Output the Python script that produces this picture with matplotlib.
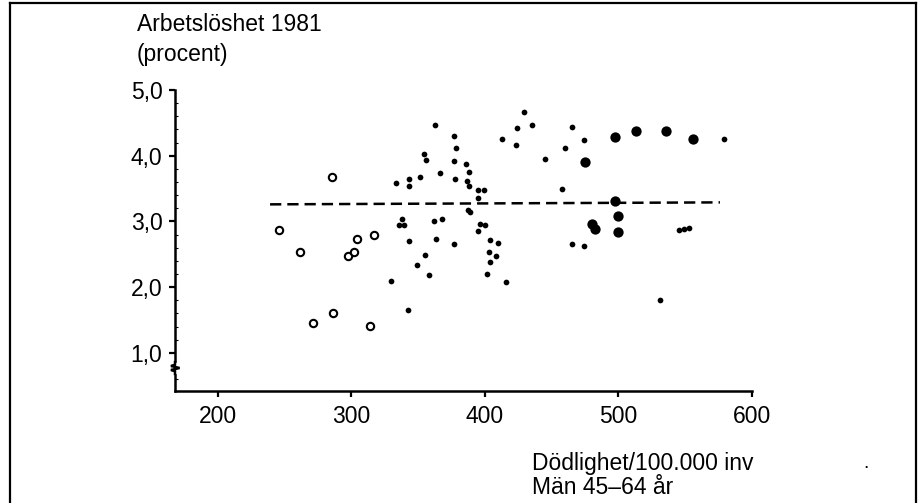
import numpy as np
import matplotlib
matplotlib.use("Agg")
import matplotlib.pyplot as plt
import matplotlib.ticker as mticker
from matplotlib.lines import Line2D
from matplotlib.patches import Rectangle
from matplotlib.transforms import blended_transform_factory

plt.rcParams['font.family'] = ['Liberation Sans', 'DejaVu Sans']

# mortality per 100 000 (men 45-64) vs unemployment 1981 (percent)
open_x = [246.0, 261.5, 271.4, 285.2, 286.4, 297.7, 302.2, 304.0, 316.7, 314.0]
open_y = [2.87, 2.54, 1.46, 3.67, 1.61, 2.48, 2.53, 2.74, 2.79, 1.41]

small_x = [362.9, 377.1, 378.6, 354.2, 355.7, 377.1, 385.8, 388.3, 366.3, 351.2,
           343.4, 343.0, 333.2, 377.9, 386.3, 387.8, 394.7, 399.2, 394.7, 412.7,
           423.4, 424.0, 337.9, 335.8, 339.0, 362.1, 367.9, 386.9, 388.9, 396.4,
           399.9, 395.1, 343.4, 363.6, 376.7, 403.9, 409.9, 354.7, 402.9, 407.9,
           348.7, 358.2, 329.9, 342.4, 403.7, 401.6, 415.5, 429.2, 434.9, 444.6,
           465.1, 474.1, 459.9, 457.4, 465.4, 474.1, 578.8, 545.5, 549.0, 552.5,
           530.8]
small_y = [4.47, 4.30, 4.11, 4.03, 3.93, 3.92, 3.88, 3.75, 3.74, 3.67,
           3.65, 3.54, 3.58, 3.65, 3.62, 3.54, 3.48, 3.48, 3.36, 4.25,
           4.17, 4.42, 3.04, 2.94, 2.94, 3.00, 3.04, 3.17, 3.14, 2.96,
           2.94, 2.86, 2.71, 2.74, 2.65, 2.72, 2.67, 2.49, 2.54, 2.48,
           2.33, 2.19, 2.10, 1.65, 2.38, 2.20, 2.08, 4.67, 4.47, 3.95,
           4.43, 4.24, 4.11, 3.49, 2.66, 2.62, 4.25, 2.87, 2.88, 2.90,
           1.80]

big_x = [474.9, 497.6, 513.3, 535.4, 556.1, 497.6, 499.6, 499.3, 480.1, 482.1]
big_y = [3.90, 4.28, 4.38, 4.37, 4.25, 3.31, 3.08, 2.84, 2.96, 2.88]

# fitted line
line_x = [239, 576]
line_y = [3.26, 3.29]

x_ticks = [200, 300, 400, 500, 600]
y_ticks = [1.0, 2.0, 3.0, 4.0, 5.0]

W, H = 922, 503
fig = plt.figure(figsize=(W / 100, H / 100), dpi=100)
ax = fig.add_axes([175 / W, (H - 391) / H, 577 / W, 301 / H])

ax.plot(line_x, line_y, color='black', lw=1.8, dashes=(4.5, 2.4), zorder=2)
ax.scatter(open_x, open_y, s=28, facecolors='white', edgecolors='black',
           linewidths=1.5, zorder=3)
ax.scatter(small_x, small_y, s=17, color='black', linewidths=0, zorder=3)
ax.scatter(big_x, big_y, s=55, color='black', linewidths=0, zorder=3)

ax.set_xlim(167.8, 600)
ax.set_ylim(0.42, 5.0)

ax.set_xticks(x_ticks)
ax.set_yticks(y_ticks)
ax.yaxis.set_major_formatter(mticker.FuncFormatter(lambda v, p: f"{v:.1f}".replace('.', ',')))
ax.yaxis.set_minor_locator(mticker.MultipleLocator(0.2))
ax.tick_params(axis='both', labelsize=16.5, width=1.6, length=4, direction='out',
               color='black', labelcolor='black')
ax.tick_params(axis='x', pad=6)
ax.tick_params(axis='y', pad=5)
ax.tick_params(axis='y', which='minor', direction='in', length=2, width=0.8)

for side in ['top', 'right']:
    ax.spines[side].set_visible(False)
for side in ['left', 'bottom']:
    ax.spines[side].set_linewidth(1.8)
ax.patch.set_visible(False)

# axis break on the y axis (small zigzag across the spine)
tr = blended_transform_factory(ax.transAxes, ax.transData)
ax.add_patch(Rectangle((-0.01, 0.70), 0.02, 0.14, transform=tr, color='white',
                       clip_on=False, zorder=4))
zx = np.array([0.0, 0.0, -0.007, 0.008, -0.007, 0.0, 0.0])
zy = np.array([0.86, 0.82, 0.80, 0.77, 0.74, 0.72, 0.68])
ax.add_line(Line2D(zx, zy, transform=tr, color='black', lw=1.8,
                   solid_joinstyle='miter', clip_on=False, zorder=6))

# labels
fig.text(137 / W, 1 - 31 / H, "Arbetslöshet 1981", fontsize=16.5, ha='left', va='baseline')
fig.text(137 / W, 1 - 61 / H, "(procent)", fontsize=16.5, ha='left', va='baseline')
fig.text(532 / W, 1 - 470 / H, "Dödlighet/100.000 inv", fontsize=16.5, ha='left', va='baseline')
fig.text(532 / W, 1 - 494 / H, "Män 45–64 år", fontsize=16.5, ha='left', va='baseline')
fig.text(866 / W, 1 - 464 / H, ".", fontsize=14, ha='center', va='center')

# frame around the figure
fig.add_artist(Line2D([10 / W, 10 / W], [-0.1, 1 - 3 / H], transform=fig.transFigure,
                      color='black', lw=1.6))
fig.add_artist(Line2D([916 / W, 916 / W], [-0.1, 1 - 3 / H], transform=fig.transFigure,
                      color='black', lw=1.6))
fig.add_artist(Line2D([10 / W, 916 / W], [1 - 3 / H, 1 - 3 / H], transform=fig.transFigure,
                      color='black', lw=1.6))

fig.savefig("out.png", dpi=100)
